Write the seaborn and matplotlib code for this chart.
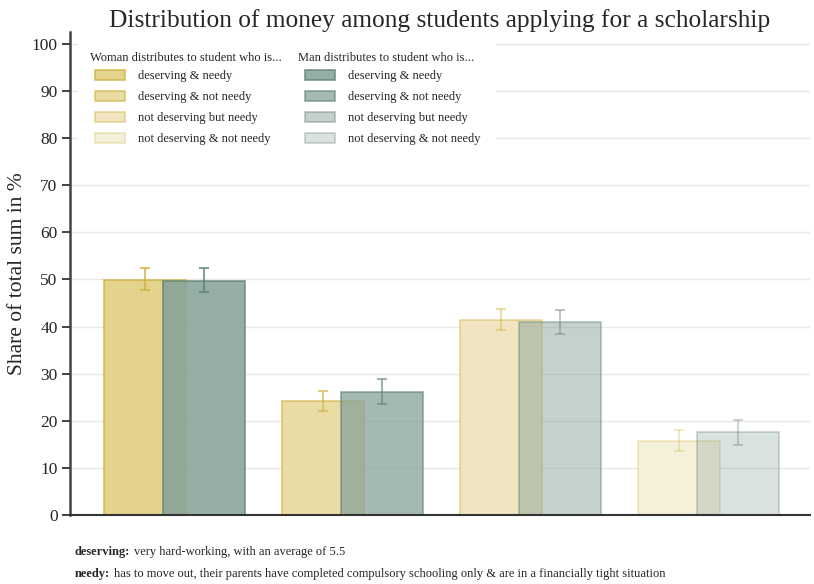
import numpy as np
import pandas as pd
import matplotlib
matplotlib.use("Agg")
import matplotlib.pyplot as plt
from matplotlib.patches import Patch, Rectangle
from matplotlib.colors import to_rgba
import seaborn as sns

# values
categories = ["deserving & needy", "deserving & not needy",
              "not deserving but needy", "not deserving & not needy"]
woman_mean = [49.9, 24.2, 41.4, 15.7]
woman_lo = [47.8, 22.1, 39.3, 13.6]
woman_hi = [52.4, 26.3, 43.7, 18.0]
man_mean = [49.7, 26.1, 41.0, 17.6]
man_lo = [47.3, 23.6, 38.4, 14.9]
man_hi = [52.4, 28.9, 43.5, 20.2]

woman_title = "Woman distributes to student who is..."
man_title = "Man distributes to student who is..."

# colours
woman_fill = ["#e3d38c", "#e9dda5", "#f0e5c0", "#f5f0da"]
woman_edge = [to_rgba("#d2b446", a) for a in (0.8, 0.65, 0.45, 0.3)]
man_fill = [to_rgba("#88a399", a) for a in (0.88, 0.76, 0.49, 0.31)]
man_edge = [to_rgba("#5f8275", a) for a in (0.75, 0.6, 0.42, 0.32)]

sns.set_theme(style="white")
plt.rcParams["font.family"] = ["Liberation Serif", "DejaVu Serif"]

pos = np.arange(len(categories))
shift = 0.167
df_w = pd.DataFrame({"x": pos - shift, "share": woman_mean, "cat": categories})
df_m = pd.DataFrame({"x": pos + shift, "share": man_mean, "cat": categories})

fig = plt.figure(figsize=(8.14, 5.84), dpi=100)
ax = fig.add_axes([0.086, 0.118, 0.909, 0.827])

sns.barplot(data=df_w, x="x", y="share", native_scale=True, width=0.46,
            errorbar=None, color="#e3d38c", ax=ax)
sns.barplot(data=df_m, x="x", y="share", native_scale=True, width=0.46,
            errorbar=None, color="#88a399", ax=ax)

bars = ax.patches
for i, p in enumerate(bars[:4]):
    p.set_facecolor(woman_fill[i])
    p.set_edgecolor(woman_edge[i])
    p.set_linewidth(1.3)
for i, p in enumerate(bars[4:8]):
    p.set_facecolor(man_fill[i])
    p.set_edgecolor(man_edge[i])
    p.set_linewidth(1.3)

# confidence intervals
for i in range(len(categories)):
    ax.errorbar(pos[i] - shift, woman_mean[i],
                yerr=[[woman_mean[i] - woman_lo[i]], [woman_hi[i] - woman_mean[i]]],
                color=woman_edge[i], capsize=3.3, elinewidth=1.5, capthick=1.5, zorder=5)
    ax.errorbar(pos[i] + shift, man_mean[i],
                yerr=[[man_mean[i] - man_lo[i]], [man_hi[i] - man_mean[i]]],
                color=man_edge[i], capsize=3.3, elinewidth=1.5, capthick=1.5, zorder=5)

ax.set_xlim(-0.587, 3.57)
ax.set_ylim(0, 102.5)
ax.set_yticks(range(0, 101, 10))
ax.set_xticks([])
ax.set_xlabel("")
ax.set_ylabel("Share of total sum in %", fontsize=15.5, labelpad=3)
ax.yaxis.grid(True, color="#e8e8e8", linewidth=1)
ax.set_axisbelow(True)
ax.tick_params(axis="y", left=True, length=6, width=1.3, color="#333333",
               labelsize=12.5, pad=3)
for s in ["top", "right"]:
    ax.spines[s].set_visible(False)
ax.spines["left"].set_color("#444444")
ax.spines["left"].set_linewidth(1.8)
ax.spines["bottom"].set_color("#333333")
ax.spines["bottom"].set_linewidth(1.5)

ax.set_title("Distribution of money among students applying for a scholarship",
             fontsize=18.3, pad=4)

# white box behind the legends hides the grid
ax.add_patch(Rectangle((0.011, 0.75), 0.565, 0.25, transform=ax.transAxes,
                       facecolor="white", edgecolor="none", zorder=1.5))

ax.text(0.027, 0.947, woman_title, transform=ax.transAxes, fontsize=9,
        va="center", ha="left")
ax.text(0.308, 0.947, man_title, transform=ax.transAxes, fontsize=9,
        va="center", ha="left")

w_handles = [Patch(facecolor=woman_fill[i], edgecolor=woman_edge[i], linewidth=1.3)
             for i in range(4)]
m_handles = [Patch(facecolor=man_fill[i], edgecolor=man_edge[i], linewidth=1.3)
             for i in range(4)]

leg_kw = dict(loc="upper left", fontsize=9, frameon=False,
              handlelength=2.4, handleheight=0.88, handletextpad=1.05,
              labelspacing=0.69, borderpad=0, borderaxespad=0)
leg1 = ax.legend(w_handles, categories, bbox_to_anchor=(0.0338, 0.922), **leg_kw)
ax.add_artist(leg1)
ax.legend(m_handles, categories, bbox_to_anchor=(0.3176, 0.922), **leg_kw)

t1 = fig.text(0.092, 0.05, "deserving:", fontsize=9, fontweight="bold", va="baseline")
ax.annotate("very hard-working, with an average of 5.5", xy=(1, 0), xycoords=t1,
            xytext=(3, 0), textcoords="offset points", fontsize=9, va="bottom")
t2 = fig.text(0.092, 0.012, "needy:", fontsize=9, fontweight="bold", va="baseline")
ax.annotate("has to move out, their parents have completed compulsory schooling only"
            " & are in a financially tight situation", xy=(1, 0), xycoords=t2,
            xytext=(3, 0), textcoords="offset points", fontsize=9, va="bottom")

fig.savefig("out.png", dpi=100)
